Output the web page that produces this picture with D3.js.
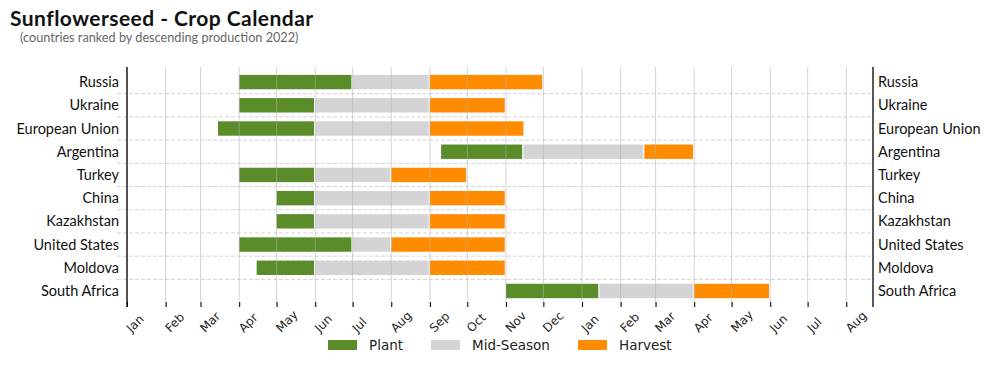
<script src="https://cdn.jsdelivr.net/npm/d3@7"></script>
<style>
  body { margin: 0; background: #fff; }
</style>
<div id="crop_chart"></div>
<script>
var countries = ["Russia", "Ukraine", "European Union", "Argentina", "Turkey",
                 "China", "Kazakhstan", "United States", "Moldova", "South Africa"];

// [start, end] of each phase, per country
var plant = [
    ["2021-04-01", "2021-06-30"], ["2021-04-01", "2021-05-31"], ["2021-03-15", "2021-05-31"],
    ["2021-09-10", "2021-11-14"], ["2021-04-01", "2021-05-31"], ["2021-05-01", "2021-05-31"],
    ["2021-05-01", "2021-05-31"], ["2021-04-01", "2021-06-30"], ["2021-04-15", "2021-05-31"],
    ["2021-11-01", "2022-01-14"]];
var midSeason = [
    ["2021-07-01", "2021-08-31"], ["2021-06-01", "2021-08-31"], ["2021-06-01", "2021-08-31"],
    ["2021-11-15", "2022-02-19"], ["2021-06-01", "2021-07-31"], ["2021-06-01", "2021-08-31"],
    ["2021-06-01", "2021-08-31"], ["2021-07-01", "2021-07-31"], ["2021-06-01", "2021-08-31"],
    ["2022-01-15", "2022-03-31"]];
var harvest = [
    ["2021-09-01", "2021-11-30"], ["2021-09-01", "2021-10-31"], ["2021-09-01", "2021-11-15"],
    ["2022-02-20", "2022-03-31"], ["2021-08-01", "2021-09-30"], ["2021-09-01", "2021-10-31"],
    ["2021-09-01", "2021-10-31"], ["2021-08-01", "2021-10-31"], ["2021-09-01", "2021-10-31"],
    ["2022-04-01", "2022-05-31"]];

var phases = ["Plant", "Mid-Season", "Harvest"];
var phaseColors = ["#5b8c2a", "#d4d3d5", "#ff8c00"];

var margin = {top: 67, right: 121, bottom: 61, left: 127},
    width = 994 - margin.left - margin.right,
    height = 368 - margin.top - margin.bottom;

var svg = d3.select("#crop_chart")
  .append("svg")
    .attr("width", 994)
    .attr("height", 368)
    .style("font-family", "Lato, 'Noto Sans', sans-serif");

var g = svg.append("g")
    .attr("transform", "translate(" + margin.left + "," + margin.top + ")");

var parse = d3.timeParse("%Y-%m-%d");
var xScale = d3.scaleTime()
    .domain([new Date(2021, 0, 1), new Date(2022, 7, 22, 10)])
    .range([0, width]);
var yScale = d3.scaleLinear().domain([-0.65, 9.69]).range([0, height]);
var barH = yScale(0.62) - yScale(0);

// horizontal dashed separators
g.append("g").selectAll("line")
    .data(d3.range(countries.length - 1))
    .join("line")
    .attr("x1", -10).attr("x2", width)
    .attr("y1", d => yScale(d + 0.5)).attr("y2", d => yScale(d + 0.5))
    .attr("stroke", "#d3d3d3")
    .attr("stroke-dasharray", "4,2")
    .attr("stroke-width", 1);

// bars
[plant, midSeason, harvest].forEach(function(series, k) {
    g.append("g").selectAll("rect")
        .data(series)
        .join("rect")
        .attr("x", d => xScale(parse(d[0])))
        .attr("width", d => xScale(parse(d[1])) - xScale(parse(d[0])))
        .attr("y", (d, i) => yScale(i) - barH / 2)
        .attr("height", barH)
        .attr("fill", phaseColors[k]);
});

// x axis with inward ticks and vertical grid
var months = d3.timeMonth.range(new Date(2021, 0, 1), new Date(2022, 7, 2));
g.append("g").selectAll("line")
    .data(months)
    .join("line")
    .attr("x1", d => xScale(d)).attr("x2", d => xScale(d))
    .attr("y1", 0).attr("y2", height)
    .attr("stroke", "#b0b0b0")
    .attr("stroke-opacity", 0.55);

var xAxis = g.append("g")
    .attr("transform", "translate(0," + height + ")")
    .call(d3.axisBottom(xScale).tickValues(months).tickSize(-5).tickFormat(d3.timeFormat("%b")));
xAxis.select(".domain").remove();
xAxis.selectAll(".tick line").attr("stroke", "#000");
xAxis.selectAll(".tick text")
    .attr("y", 0).attr("dy", 0)
    .attr("transform", "translate(4,26) rotate(-45)")
    .style("text-anchor", "start")
    .style("font-family", "'DejaVu Sans', sans-serif")
    .style("font-size", "12px")
    .attr("fill", "#222");

// left and right spines with country names
g.append("line").attr("x1", 0).attr("x2", 0).attr("y1", 0).attr("y2", height)
    .attr("stroke", "#000").attr("stroke-width", 1.3);
g.append("line").attr("x1", width).attr("x2", width).attr("y1", 0).attr("y2", height)
    .attr("stroke", "#000").attr("stroke-width", 1.3);

g.append("g").selectAll("text")
    .data(countries)
    .join("text")
    .attr("x", -8)
    .attr("y", (d, i) => yScale(i))
    .attr("dy", "0.35em")
    .style("text-anchor", "end")
    .style("font-size", "14.5px")
    .attr("fill", "#111")
    .text(d => d);

g.append("g").selectAll("text")
    .data(countries)
    .join("text")
    .attr("x", width + 5)
    .attr("y", (d, i) => yScale(i))
    .attr("dy", "0.35em")
    .style("text-anchor", "start")
    .style("font-size", "14.5px")
    .attr("fill", "#111")
    .text(d => d);

// title
svg.append("text").attr("x", 10).attr("y", 26)
    .style("font-size", "21px").style("font-weight", "bold")
    .style("letter-spacing", "0.45px")
    .attr("fill", "#111")
    .text("Sunflowerseed - Crop Calendar");
svg.append("text").attr("x", 20).attr("y", 42)
    .style("font-size", "12.7px")
    .attr("fill", "#666")
    .text("(countries ranked by descending production 2022)");

// legend
var legendX = [328, 431, 578];
var legend = svg.append("g").selectAll("g")
    .data(phases)
    .join("g")
    .attr("transform", (d, i) => "translate(" + legendX[i] + ",340)");
legend.append("rect")
    .attr("width", 29).attr("height", 10)
    .attr("fill", (d, i) => phaseColors[i]);
legend.append("text")
    .attr("x", 41).attr("y", 10)
    .style("font-family", "'DejaVu Sans', sans-serif")
    .style("font-size", "13.5px")
    .attr("fill", "#222")
    .text(d => d);
</script>
